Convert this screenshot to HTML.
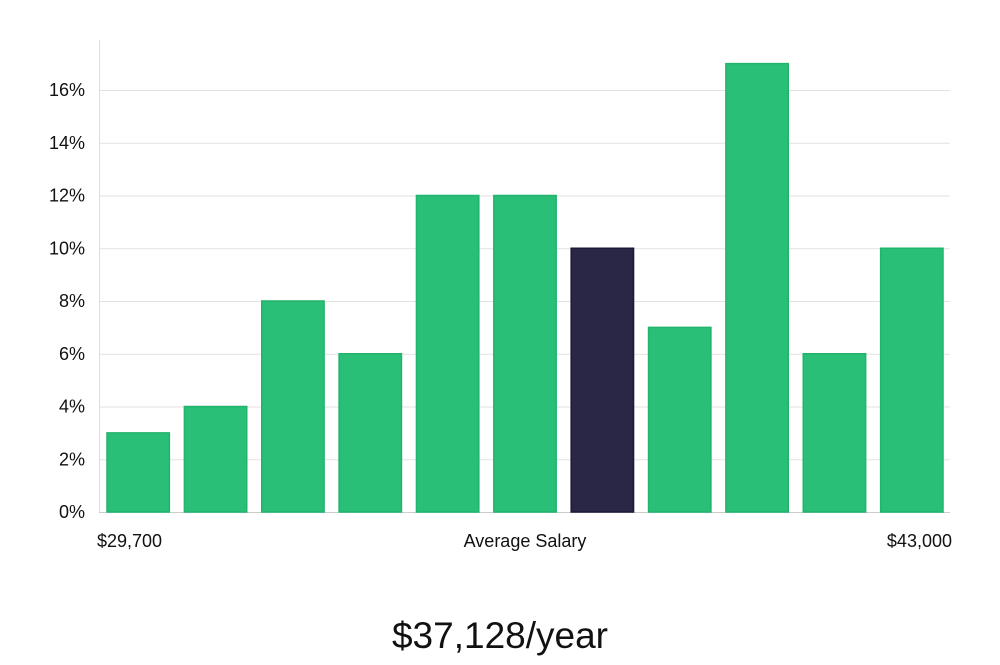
<!DOCTYPE html>
<html><head><meta charset="utf-8"><style>
body{margin:0;background:#fff;width:1000px;height:660px;overflow:hidden;font-family:"Liberation Sans","DejaVu Sans",sans-serif}
</style></head><body>
<svg id="chart" width="1000" height="660" xmlns="http://www.w3.org/2000/svg">
<g id="grid"></g><g id="bars"></g><g id="ticks"></g>
<line x1="99.5" y1="40" x2="99.5" y2="512" stroke="#ddd" stroke-width="1"/>
<text x="97" y="547" font-size="18" fill="#111">$29,700</text>
<text x="525" y="547" font-size="18" fill="#111" text-anchor="middle">Average Salary</text>
<text x="952" y="547" font-size="18" fill="#111" text-anchor="end">$43,000</text>
<text x="500" y="648" font-size="37" fill="#111" text-anchor="middle">$37,128/year</text>
</svg>
<script>
const values=[3,4,8,6,12,12,10,7,17,6,10];
const highlightIndex=6;
const tickValues=[0,2,4,6,8,10,12,14,16];
const tickLabels=["0%","2%","4%","6%","8%","10%","12%","14%","16%"];
const ns="http://www.w3.org/2000/svg";
const x0=99,x1=950,yBase=512,yTop16=90;
const y=v=>yBase-(v/16)*(yBase-yTop16);
const step=(x1-x0)/values.length;
const grid=document.getElementById('grid'),bars=document.getElementById('bars'),ticks=document.getElementById('ticks');
tickValues.forEach((t,i)=>{
 const l=document.createElementNS(ns,'line');
 
 
 l.setAttribute('x1',x0);l.setAttribute('x2',x1);
 l.setAttribute('y1',y(t)+0.5);l.setAttribute('y2',y(t)+0.5);
 l.setAttribute('stroke',t===0?'#ccc':'#e2e2e2');
 grid.appendChild(l);
 const tx=document.createElementNS(ns,'text');
 
 
 tx.setAttribute('x',85);tx.setAttribute('y',y(t)+6);
 tx.setAttribute('text-anchor','end');tx.setAttribute('font-size','18');tx.setAttribute('fill','#111');
 tx.textContent=tickLabels[i];
 ticks.appendChild(tx);
});
values.forEach((v,i)=>{
 const r=document.createElementNS(ns,'rect');
 
 
 const bx=x0+i*step+8;
 r.setAttribute('x',bx);r.setAttribute('width',step-15);
 r.setAttribute('y',y(v));r.setAttribute('height',yBase-y(v));
 r.setAttribute('fill',i===highlightIndex?'#2a2646':'#2abf77');
 r.setAttribute('stroke',i===highlightIndex?'#1c1838':'#22b36c');
 r.setAttribute('stroke-width','1.5');
 bars.appendChild(r);
});
</script>
</body></html>
